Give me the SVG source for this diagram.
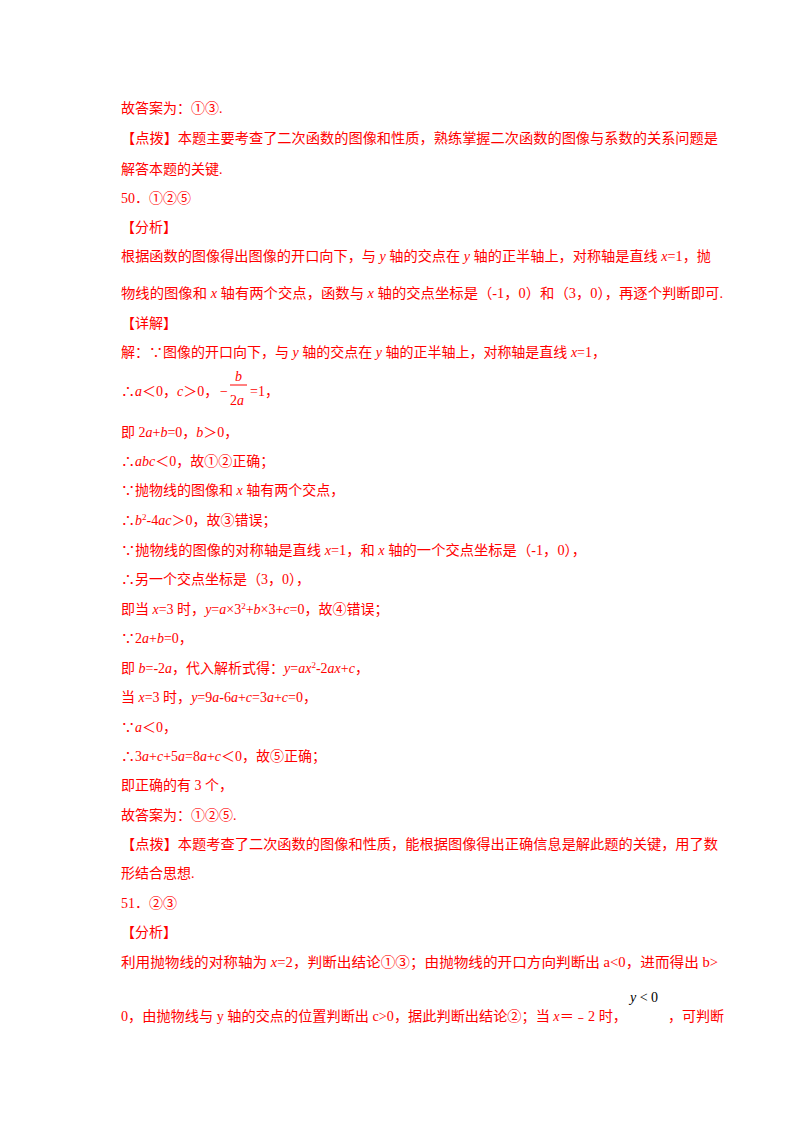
<svg xmlns="http://www.w3.org/2000/svg" width="800" height="1132" viewBox="0 0 800 1132">
<style>
text{font-family:"Liberation Serif","Noto Sans CJK SC",serif;font-size:14px;fill:#ff0000}
.i{font-style:italic}
.k{fill:#000}
</style>
<rect width="800" height="1132" fill="#fff"/>
<g id="text">
<text x="121" y="113">故答案为：①③.</text>
<text x="121" y="143" textLength="597" lengthAdjust="spacingAndGlyphs">【点拨】本题主要考查了二次函数的图像和性质，熟练掌握二次函数的图像与系数的关系问题是</text>
<text x="121" y="174">解答本题的关键.</text>
<text x="121" y="203">50．①②⑤</text>
<text x="121" y="232">【分析】</text>
<text x="121" y="261" textLength="590" lengthAdjust="spacingAndGlyphs">根据函数的图像得出图像的开口向下，与 <tspan class="i">y</tspan> 轴的交点在 <tspan class="i">y</tspan> 轴的正半轴上，对称轴是直线 <tspan class="i">x</tspan>=1，抛</text>
<text x="121" y="298" textLength="602" lengthAdjust="spacingAndGlyphs">物线的图像和 <tspan class="i">x</tspan> 轴有两个交点，函数与 <tspan class="i">x</tspan> 轴的交点坐标是（-1，0）和（3，0），再逐个判断即可.</text>
<text x="121" y="328">【详解】</text>
<text x="121" y="357" textLength="485" lengthAdjust="spacingAndGlyphs">解：∵图像的开口向下，与 <tspan class="i">y</tspan> 轴的交点在 <tspan class="i">y</tspan> 轴的正半轴上，对称轴是直线 <tspan class="i">x</tspan>=1，</text>
<text x="121" y="396">∴<tspan class="i">a</tspan>＜0，<tspan class="i">c</tspan>＞0，</text>
<text x="220" y="396">−</text>
<text x="235" y="381" class="i">b</text>
<line x1="230" y1="385" x2="247" y2="385" stroke="#ff0000" stroke-width="1"/>
<text x="230" y="405">2<tspan class="i">a</tspan></text>
<text x="250" y="396">=1，</text>
<text x="121" y="437">即 2<tspan class="i">a</tspan>+<tspan class="i">b</tspan>=0，<tspan class="i">b</tspan>＞0，</text>
<text x="121" y="466">∴<tspan class="i">abc</tspan>＜0，故①②正确；</text>
<text x="121" y="495">∵抛物线的图像和 <tspan class="i">x</tspan> 轴有两个交点，</text>
<text x="121" y="525">∴<tspan class="i">b</tspan><tspan font-size="9" dy="-5">2</tspan><tspan dy="5">-4</tspan><tspan class="i">ac</tspan>＞0，故③错误；</text>
<text x="121" y="555" textLength="465" lengthAdjust="spacingAndGlyphs">∵抛物线的图像的对称轴是直线 <tspan class="i">x</tspan>=1，和 <tspan class="i">x</tspan> 轴的一个交点坐标是（-1，0），</text>
<text x="121" y="584">∴另一个交点坐标是（3，0），</text>
<text x="121" y="614">即当 <tspan class="i">x</tspan>=3 时，<tspan class="i">y</tspan>=<tspan class="i">a</tspan>×3<tspan font-size="9" dy="-5">2</tspan><tspan dy="5">+</tspan><tspan class="i">b</tspan>×3+<tspan class="i">c</tspan>=0，故④错误；</text>
<text x="121" y="643">∵2<tspan class="i">a</tspan>+<tspan class="i">b</tspan>=0，</text>
<text x="121" y="673">即 <tspan class="i">b</tspan>=-2<tspan class="i">a</tspan>，代入解析式得：<tspan class="i">y</tspan>=<tspan class="i">ax</tspan><tspan font-size="9" dy="-5">2</tspan><tspan dy="5">-2</tspan><tspan class="i">ax</tspan>+<tspan class="i">c</tspan>，</text>
<text x="121" y="702">当 <tspan class="i">x</tspan>=3 时，<tspan class="i">y</tspan>=9<tspan class="i">a</tspan>-6<tspan class="i">a</tspan>+<tspan class="i">c</tspan>=3<tspan class="i">a</tspan>+<tspan class="i">c</tspan>=0，</text>
<text x="121" y="732">∵<tspan class="i">a</tspan>＜0，</text>
<text x="121" y="761">∴3<tspan class="i">a</tspan>+<tspan class="i">c</tspan>+5<tspan class="i">a</tspan>=8<tspan class="i">a</tspan>+<tspan class="i">c</tspan>＜0，故⑤正确；</text>
<text x="121" y="790">即正确的有 3 个，</text>
<text x="121" y="820">故答案为：①②⑤.</text>
<text x="121" y="849" textLength="597" lengthAdjust="spacingAndGlyphs">【点拨】本题考查了二次函数的图像和性质，能根据图像得出正确信息是解此题的关键，用了数</text>
<text x="121" y="878">形结合思想.</text>
<text x="121" y="908">51．②③</text>
<text x="121" y="937">【分析】</text>
<text x="121" y="967" textLength="597" lengthAdjust="spacingAndGlyphs">利用抛物线的对称轴为 <tspan class="i">x</tspan>=2，判断出结论①③；由抛物线的开口方向判断出 a&lt;0，进而得出 b&gt;</text>
<text x="121" y="1021" textLength="506" lengthAdjust="spacingAndGlyphs">0，由抛物线与 y 轴的交点的位置判断出 c&gt;0，据此判断出结论②；当 <tspan class="i">x</tspan>＝﹣2 时，</text>
<text x="630" y="1002" class="k"><tspan class="i">y</tspan> &lt; 0</text>
<text x="668" y="1021">，可判断</text>
</g>
</svg>
